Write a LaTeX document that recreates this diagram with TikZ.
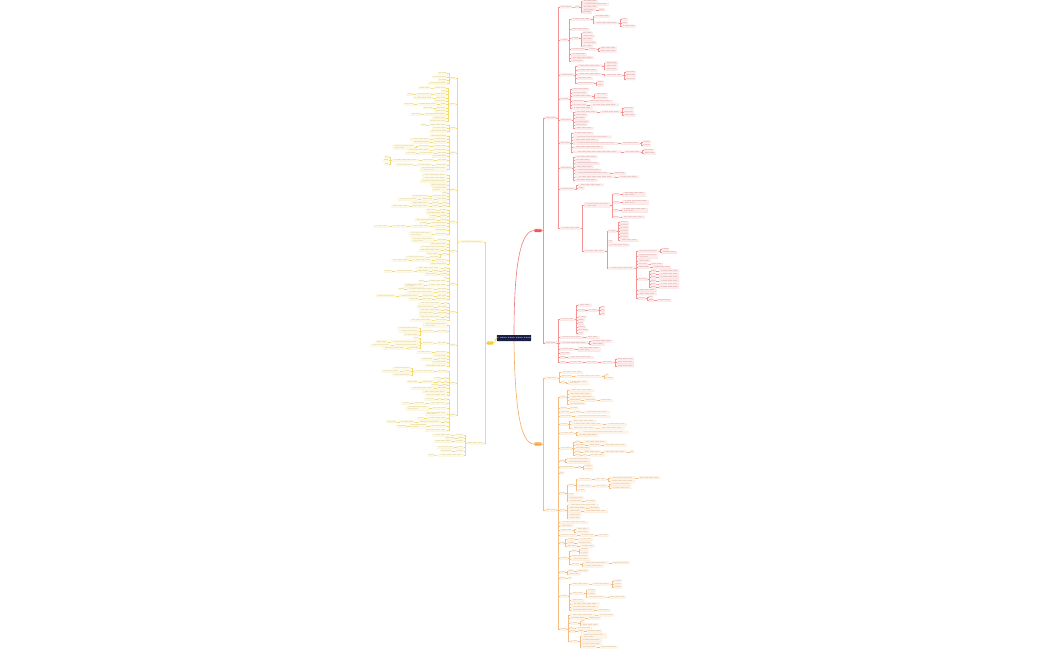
\documentclass[tikz,border=0pt]{standalone}
\usepackage{fontspec}
\newcommand\xs[1]{\expandafter\xsloop\expandafter{\number\numexpr(#1)*4/5\relax}}
\newcommand\xsloop[1]{\ifnum#1>0 \ifnum\numexpr#1/5*5\relax=#1 \space\else x\fi\expandafter\xsloop\expandafter{\number\numexpr#1-1\relax}\fi}
\newcommand\kid[4]{\coordinate (tmp) at (0,#3);
  \node[leafbox,anchor=west,xshift=3pt,minimum width=#4pt] (#1) at (#2.east |- tmp) {\xs{#4}};
  \draw[twig] (#2.east) -- ++(1.5,0) |- (#1.west);}
\newcommand\kidt[4]{\coordinate (tmp) at (0,#3);
  \node[leafbox,twoline,anchor=west,xshift=3pt,minimum width=#4pt] (#1) at (#2.east |- tmp) {\xs{#4}\\\xs{(#4)/2}};
  \draw[twig] (#2.east) -- ++(1.5,0) |- (#1.west);}
\newcommand\lkid[4]{\coordinate (tmp) at (0,#3);
  \node[leafbox,anchor=east,xshift=-3pt,minimum width=#4pt] (#1) at (#2.west |- tmp) {\xs{#4}};
  \draw[twig] (#2.west) -- ++(-1.5,0) |- (#1.east);}
\newcommand\lkidt[4]{\coordinate (tmp) at (0,#3);
  \node[leafbox,twoline,anchor=east,xshift=-3pt,minimum width=#4pt] (#1) at (#2.west |- tmp) {\xs{#4}\\\xs{(#4)/2}};
  \draw[twig] (#2.west) -- ++(-1.5,0) |- (#1.east);}
\begin{document}
\begin{tikzpicture}[x=1pt,y=-1pt,
  leafbox/.style={draw=bc!35,fill=bc!14,text=bc!75!black,line width=0.2pt,rounded corners=0.4pt,
    inner xsep=0.4pt,inner ysep=0.2pt,minimum height=2.3pt,font=\fontsize{1.5}{1.7}\selectfont},
  twoline/.style={minimum height=4.4pt,align=left},
  twig/.style={draw=bc!80,line width=0.35pt},
  hub/.style={rounded corners=0.6pt,text=white,inner sep=0.3pt,minimum height=3.2pt,font=\fontsize{1.6}{1.8}\selectfont},
  trunk/.style={line width=0.6pt}]
\definecolor{rootc}{HTML}{1B1E45}
\definecolor{rhubc}{HTML}{F25757}
\definecolor{ohubc}{HTML}{F7A440}
\definecolor{yhubc}{HTML}{F5CB1C}
\definecolor{rline}{HTML}{F27878}
\definecolor{oline}{HTML}{F5AD5E}
\definecolor{yline}{HTML}{F2D24A}
\fill[white] (0,0) rectangle (1050,650);
\useasboundingbox (0,0) rectangle (1050,650);
\node[hub,fill=rootc,minimum width=32pt,minimum height=6pt,font=\fontsize{2.4}{2.8}\selectfont] (root) at (514,338) {\xs{26}};
\node[hub,fill=rhubc,minimum width=7pt] (rhub) at (538,230.5) {\xs{7}};
\node[hub,fill=ohubc,minimum width=7pt] (ohub) at (538,444) {\xs{7}};
\node[hub,fill=yhubc,minimum width=6pt] (yhub) at (490,343) {\xs{6}};
\draw[trunk,draw=rline] (root.north) .. controls (514,262) and (521,230.5) .. (rhub.west);
\draw[trunk,draw=oline] (root.south) .. controls (515,412) and (521,444) .. (ohub.west);
\draw[trunk,draw=yline] (root.west) .. controls (495.5,338) and (495.5,343) .. (yhub.east);
\colorlet{bc}{rline}
\kid{rA}{rhub}{118}{12}
\kid{rB}{rhub}{342.7}{12}
\kid{ra1}{rA}{7}{12}
\kid{ra1a}{ra1}{7}{4}
\kid{ra1a1}{ra1a}{1.6}{15}
\kid{ra1a2}{ra1a}{4.3}{26}
\kid{ra1a3}{ra1a}{7}{15}
\kid{ra1a4}{ra1a}{9.7}{13}
\kid{ra1a4a}{ra1a4}{9.7}{6}
\kid{ra1a5}{ra1a}{12.4}{9}
\kid{ra2}{rA}{40}{8}
\kid{ra2a}{ra2}{19.5}{20}
\kid{ra2a1}{ra2a}{16.2}{15}
\kid{ra2a2}{ra2a}{22.8}{24}
\kid{ra2a2a}{ra2a2}{19.5}{6}
\kid{ra2a2b}{ra2a2}{22.8}{6}
\kid{ra2a2c}{ra2a2}{26.1}{14}
\kid{ra2b}{ra2}{29.5}{18}
\kid{ra2c}{ra2}{38.5}{8}
\kid{ra2c1}{ra2c}{33}{10}
\kid{ra2c2}{ra2c}{36.3}{12}
\kid{ra2c3}{ra2c}{39.6}{10}
\kid{ra2c4}{ra2c}{42.9}{14}
\kid{ra2c5}{ra2c}{46.2}{10}
\kid{ra2d}{ra2}{49.5}{14}
\kid{ra2d1}{ra2d}{49.5}{8}
\kid{ra2d1a}{ra2d1}{47.8}{17}
\kid{ra2d1b}{ra2d1}{51.1}{17}
\kid{ra2e}{ra2}{54.4}{15}
\kid{ra2f}{ra2}{57.7}{22}
\kid{ra2g}{ra2}{61}{12}
\kid{ra3}{rA}{75}{14}
\kid{ra3a}{ra3}{66}{25}
\kid{ra3a1}{ra3a}{62.7}{12}
\kid{ra3a2}{ra3a}{66}{12}
\kid{ra3a3}{ra3a}{69.3}{12}
\kid{ra3b}{ra3}{70.5}{20}
\kid{ra3c}{ra3}{74.5}{25}
\kid{ra3c1}{ra3c}{75.5}{17}
\kid{ra3c1a}{ra3c1}{72.2}{10}
\kid{ra3c1b}{ra3c1}{75.5}{10}
\kid{ra3c1c}{ra3c1}{78.8}{10}
\kid{ra3d}{ra3}{78.5}{15}
\kid{ra3e}{ra3}{83.5}{17}
\kid{ra3e1}{ra3e}{81.8}{6}
\kid{ra3e2}{ra3e}{85.1}{6}
\kid{ra4}{rA}{98.8}{9}
\kid{ra4a}{ra4}{89.5}{17}
\kid{ra4b}{ra4}{92.8}{15}
\kid{ra4c}{ra4}{96.1}{20}
\kid{ra4c1}{ra4c}{94.5}{12}
\kid{ra4c2}{ra4c}{97.8}{12}
\kid{ra4d}{ra4}{101.5}{12}
\kid{ra4d1}{ra4d}{101.5}{25}
\kid{ra4e}{ra4}{104.8}{15}
\kid{ra4e1}{ra4e}{104.8}{28}
\kid{ra4f}{ra4}{108.1}{20}
\kid{ra5}{rA}{120}{12}
\kid{ra5a}{ra5}{111.8}{22}
\kid{ra5a1}{ra5a}{111.8}{20}
\kid{ra5a1a}{ra5a1}{108.5}{10}
\kid{ra5a1b}{ra5a1}{111.8}{10}
\kid{ra5a1c}{ra5a1}{115.1}{12}
\kid{ra5b}{ra5}{115.1}{12}
\kid{ra5c}{ra5}{118.4}{10}
\kid{ra5d}{ra5}{121.7}{14}
\kid{ra5e}{ra5}{125}{12}
\kid{ra5f}{ra5}{128.3}{18}
\kid{ra6}{rA}{143}{10}
\kid{ra6a}{ra6}{133.5}{20}
\kid{ra6b}{ra6}{136.8}{38}
\kid{ra6c}{ra6}{140.1}{25}
\kid{ra6d}{ra6}{143.6}{45}
\kid{ra6d1}{ra6d}{143.6}{18}
\kid{ra6d1a}{ra6d1}{142}{8}
\kid{ra6d1b}{ra6d1}{145.3}{8}
\kid{ra6e}{ra6}{147.4}{30}
\kid{ra6f}{ra6}{151.8}{48}
\kid{ra6f1}{ra6f}{151.8}{16}
\kid{ra6f1a}{ra6f1}{150.2}{10}
\kid{ra6f1b}{ra6f1}{153.5}{12}
\kid{ra7}{rA}{168}{12}
\kid{ra7a}{ra7}{157}{22}
\kid{ra7b}{ra7}{160.3}{15}
\kid{ra7c}{ra7}{163.6}{24}
\kid{ra7d}{ra7}{166.9}{18}
\kid{ra7e}{ra7}{170.2}{26}
\kid{ra7f}{ra7}{173.5}{35}
\kid{ra7f1}{ra7f}{173.5}{12}
\kid{ra7g}{ra7}{176.8}{40}
\kid{ra7g1}{ra7g}{176.8}{20}
\kid{ra7h}{ra7}{180.1}{22}
\kid{ra8}{rA}{189}{15}
\kid{ra8a}{ra8}{184.8}{25}
\kid{ra8b}{ra8}{188.1}{6}
\kid{ra9}{rA}{228}{21}
\kidt{ra9a}{ra9}{205}{26}
\kid{ra9a1}{ra9a}{194.5}{6}
\kidt{ra9a1a}{ra9a1}{194.5}{23}
\kid{ra9a2}{ra9a}{202.5}{6}
\kidt{ra9a2a}{ra9a2}{202.5}{26}
\kid{ra9a3}{ra9a}{210.5}{5}
\kidt{ra9a3a}{ra9a3}{210.5}{26}
\kid{ra9a4}{ra9a}{217}{5}
\kid{ra9a4a}{ra9a4}{217}{23}
\kid{ra9b}{ra9}{251}{21}
\kid{ra9b1}{ra9b}{231}{8}
\foreach \i/\yy in {1/222.5,2/225.5,3/228.5,4/231.5,5/234.5,6/237.5}{\kid{rq\i}{ra9b1}{\yy}{9}}
\kid{rq7}{ra9b1}{240.5}{19}
\kid{ra9b2}{ra9b}{241.5}{4}
\kid{ra9b3}{ra9b}{245}{21}
\kid{ra9b4}{ra9b}{268}{26}
\kid{ra9b4a}{ra9b4}{251}{21}
\kid{ra9b4a1}{ra9b4a}{249.3}{7}
\kid{ra9b4a2}{ra9b4a}{252.6}{15}
\kidt{ra9b4b}{ra9b4}{256.5}{20}
\kid{ra9b4c}{ra9b4}{260.7}{13}
\kid{ra9b4d}{ra9b4}{264}{10}
\kid{ra9b4d1}{ra9b4d}{264}{12}
\kid{ra9b4e}{ra9b4}{267.3}{12}
\kid{ra9b4e1}{ra9b4e}{267.3}{18}
\kid{ra9b4f}{ra9b4}{279}{10}
\foreach \i/\yy in {1/270.8,2/274.1,3/277.4,4/280.7,5/284,6/287.3}{\kid{rp\i}{ra9b4f}{\yy}{5}\kid{rpx\i}{rp\i}{\yy}{20}}
\kid{ra9b4g}{ra9b4}{290.6}{19}
\kid{ra9b4h}{ra9b4}{293.9}{19}
\kid{ra9b4i}{ra9b4}{298.5}{8}
\kid{ra9b4i1}{ra9b4i}{297}{4}
\kid{ra9b4i2}{ra9b4i}{300.3}{5}
\kid{ra9b4i3}{ra9b4i2}{300.3}{14}
\kid{rb1}{rB}{319.5}{15}
\kid{rb1a}{rb1}{305}{13}
\kid{rb1b}{rb1}{310.5}{7}
\kid{rb1b1}{rb1b}{310.5}{9}
\foreach \i/\yy in {1/307.2,2/310.5,3/313.8}{\kid{rbb\i}{rb1b1}{\yy}{4}}
\kid{rb1c}{rb1}{317}{8}
\kid{rb1d}{rb1}{320.3}{6}
\kid{rb1e}{rb1}{323.6}{5}
\kid{rb1f}{rb1}{326.9}{7}
\kid{rb1g}{rb1}{330.2}{10}
\kid{rb1h}{rb1}{333.5}{5}
\kid{rb2}{rB}{337.5}{23}
\kid{rb2a}{rb2}{337.5}{13}
\kid{rb3}{rB}{342.7}{28}
\kid{rb3a}{rb3}{341.1}{21}
\kid{rb3b}{rb3}{344.4}{13}
\kid{rb4}{rB}{349}{15}
\kidt{rb4a}{rb4}{349.5}{22}
\kid{rb5}{rB}{353.5}{10}
\kid{rb6}{rB}{357.5}{5}
\kid{rb6a}{rb6}{357.5}{25}
\kid{rb7}{rB}{362.5}{6}
\kid{rb7a}{rb7}{362.5}{14}
\kid{rb7b}{rb7a}{362.5}{11}
\kid{rb7c}{rb7b}{362.5}{13}
\foreach \i/\yy in {1/359.2,2/362.5,3/365.8}{\kid{rbc\i}{rb7c}{\yy}{17}}
\colorlet{bc}{oline}
\kid{oA}{ohub}{378}{13}
\kid{oa1}{oA}{372.5}{22}
\kid{oa2}{oA}{376.5}{11}
\kid{oa2a}{oa2}{376.5}{27}
\kid{oa2a1}{oa2a}{374.8}{3}
\kid{oa2a2}{oa2a}{378.1}{8}
\kid{oa3}{oA}{382.5}{4}
\kidt{oa3a}{oa3}{382.8}{20}
\kid{oB}{ohub}{510}{12}
\kid{ob1}{oB}{397}{6}
\kid{ob1a}{ob1}{390.5}{25}
\kid{ob1b}{ob1}{393.8}{22}
\kid{ob1c}{ob1}{397.1}{25}
\kid{ob1d}{ob1}{400.4}{12}
\kid{ob1d1}{ob1d}{400.4}{12}
\kid{ob1d2}{ob1d1}{400.4}{13}
\kid{ob1e}{ob1}{403.7}{16}
\kid{ob2}{oB}{408}{7}
\kid{ob2a}{ob2}{408}{8}
\kid{ob3}{oB}{412}{10}
\kid{ob3a}{ob3}{412}{8}
\kid{ob3b}{ob3a}{412}{25}
\kid{ob4}{oB}{416.5}{12}
\kid{ob4a}{ob4}{416.5}{35}
\kid{ob5}{oB}{424.5}{8}
\kid{ob5a}{ob5}{421}{25}
\kid{ob5b}{ob5}{424.5}{32}
\kid{ob5b1}{ob5b}{424.5}{20}
\kid{ob5c}{ob5}{428}{25}
\kid{ob5c1}{ob5c}{428}{25}
\kid{ob6}{oB}{433.5}{15}
\kid{ob6a}{ob6}{432}{50}
\kid{ob6b}{ob6}{435.3}{20}
\kid{ob7}{oB}{448.5}{12}
\kid{ob7a}{ob7}{441.8}{5}
\kid{ob7a1}{ob7a}{441.8}{23}
\kid{ob7b}{ob7}{445.1}{10}
\kid{ob7b1}{ob7b}{445.1}{12}
\kid{ob7b2}{ob7b1}{445.1}{23}
\kid{ob7c}{ob7}{448.4}{15}
\kid{ob7d}{ob7}{451.7}{5}
\kid{ob7d1}{ob7d}{451.7}{17}
\kid{ob7d2}{ob7d1}{451.7}{23}
\kid{ob7d3}{ob7d2}{451.7}{4}
\kid{ob7e}{ob7}{455}{5}
\kid{ob7e1}{ob7e}{455}{3}
\kid{ob7e2}{ob7e1}{455}{15}
\kid{ob8}{oB}{460.7}{4}
\kid{ob8a}{ob8}{459.1}{23}
\kid{ob8b}{ob8}{462.4}{23}
\kid{ob9}{oB}{467.3}{15}
\kid{ob9a}{ob9}{467.3}{3}
\kid{ob9a1}{ob9a}{465.7}{8}
\kid{ob9a2}{ob9a}{469}{8}
\kid{ob10}{oB}{473}{4}
\kid{ob11}{oB}{493}{5}
\kid{ob11a}{ob11}{485}{6}
\kid{ob11a1}{ob11a}{479.5}{14}
\kid{ob11a1a}{ob11a1}{479.5}{12}
\kid{ob11a1b}{ob11a1a}{477.8}{25}
\kid{ob11a1c}{ob11a1b}{477.8}{22}
\kid{ob11a1d}{ob11a1a}{481.1}{25}
\kid{ob11a2}{ob11a}{486}{14}
\kid{ob11a2a}{ob11a2}{486}{13}
\kid{ob11a2b}{ob11a2a}{484.4}{20}
\kid{ob11a2c}{ob11a2a}{487.7}{20}
\kid{ob11a3}{ob11a}{490.5}{8}
\kid{ob11b}{ob11}{494.5}{6}
\kid{ob11c}{ob11}{497.8}{15}
\kid{ob11d}{ob11}{501.1}{14}
\kid{ob11d1}{ob11d}{501.1}{10}
\kid{ob12}{oB}{510.5}{5}
\kid{ob12a}{ob12}{505}{30}
\kid{ob12b}{ob12}{508.3}{18}
\kid{ob12b1}{ob12b}{508.3}{10}
\kid{ob12c}{ob12}{511.6}{13}
\kid{ob12c1}{ob12c}{511.6}{23}
\kid{ob12d}{ob12}{514.9}{13}
\kid{ob12e}{ob12}{518.2}{12}
\kid{ob13}{oB}{522.5}{28}
\kid{ob14}{oB}{525.8}{13}
\kid{ob15}{oB}{530.3}{13}
\kid{ob15a}{ob15}{528.7}{13}
\kid{ob15b}{ob15}{532}{13}
\kid{ob16}{oB}{535.5}{17}
\kid{ob16a}{ob16}{535.5}{15}
\kid{ob16b}{ob16a}{535.5}{10}
\kid{ob17}{oB}{543}{4}
\kid{ob17a}{ob17}{539.5}{8}
\kid{ob17a1}{ob17a}{539.5}{14}
\kid{ob17b}{ob17}{542.8}{7}
\kid{ob17b1}{ob17b}{542.8}{14}
\kid{ob17c}{ob17}{546.1}{10}
\kid{ob17c1}{ob17c}{546.1}{14}
\kid{ob18}{oB}{558}{8}
\kid{ob18a}{ob18}{550.8}{6}
\kid{ob18a1}{ob18a}{549.6}{8}
\kid{ob18a2}{ob18a}{552.9}{8}
\kid{ob18b}{ob18}{556.2}{17}
\kid{ob18c}{ob18}{559.5}{19}
\kid{ob18d}{ob18}{564.5}{9}
\kid{ob18d1}{ob18d}{562.8}{25}
\kid{ob18d1a}{ob18d1}{562.8}{18}
\kid{ob18d2}{ob18d}{566.1}{20}
\kid{ob19}{oB}{572.5}{5}
\kid{ob19a}{ob19}{570.9}{5}
\kid{ob19a1}{ob19a}{570.9}{12}
\kid{ob19b}{ob19}{574.2}{12}
\kid{ob20}{oB}{578}{5}
\kid{ob20a}{ob20}{578}{3}
\kid{ob21}{oB}{596}{8}
\kid{ob21a}{ob21}{584}{18}
\kid{ob21a1}{ob21a}{584}{18}
\foreach \i/\yy in {1/580.7,2/584,3/587.3}{\kid{oaa\i}{ob21a1}{\yy}{8}}
\kid{ob21b}{ob21}{593.5}{13}
\kid{ob21b1}{ob21b}{590.4}{8}
\kid{ob21b2}{ob21b}{593.7}{8}
\kid{ob21b3}{ob21b}{597}{18}
\kid{ob21b3a}{ob21b3}{597}{17}
\kid{ob21c}{ob21}{600.5}{13}
\kid{ob21d}{ob21}{603.8}{28}
\kid{ob21e}{ob21}{607.1}{27}
\kid{ob21f}{ob21}{610.4}{23}
\kid{ob21f1}{ob21f}{610.4}{13}
\kid{ob22}{oB}{629}{7}
\kid{ob22a}{ob22}{615}{25}
\kid{ob22a1}{ob22a}{615}{15}
\kid{ob22b}{ob22}{618.3}{15}
\kid{ob22b1}{ob22b}{618.3}{12}
\kid{ob22c}{ob22}{623}{8}
\kid{ob22c1}{ob22c}{621.4}{3}
\kid{ob22c2}{ob22c}{624.7}{17}
\kid{ob22d}{ob22}{628}{3}
\kid{ob22d1}{ob22d}{628}{15}
\kid{ob22e}{ob22}{631.3}{5}
\kid{ob22e1}{ob22e}{631.3}{5}
\kid{ob22e2}{ob22e1}{631.3}{15}
\kid{ob22f}{ob22}{641.5}{8}
\kidt{ob22f1}{ob22f}{636}{25}
\kid{ob22f2}{ob22f}{640.6}{20}
\kid{ob22f3}{ob22f}{643.9}{20}
\kid{ob22f4}{ob22f}{647.2}{15}
\kid{ob22f4a}{ob22f4}{647.2}{18}
\colorlet{bc}{yline}
\lkid{yA}{yhub}{241.7}{25}
\lkid{yB}{yhub}{443.3}{17}
\lkid{ya1}{yA}{78.5}{5}
\lkid{ya1a}{ya1}{73.5}{9}
\lkid{ya1b}{ya1}{76.8}{15}
\lkid{ya1c}{ya1}{80.1}{9}
\lkid{ya1d}{ya1}{83.4}{19}
\lkid{ya2}{yA}{104.5}{6}
\lkid{ya2a}{ya2}{88}{12}
\lkid{ya2a1}{ya2a}{88}{13}
\lkid{ya2b}{ya2}{91.3}{5}
\lkid{ya2c}{ya2}{94.6}{12}
\lkid{ya2c1}{ya2c}{94.6}{15}
\lkid{ya2c2}{ya2c1}{94.6}{6}
\lkid{ya2d}{ya2}{97.9}{10}
\lkid{ya2d1}{ya2d}{97.9}{20}
\lkid{ya2e}{ya2}{101.2}{12}
\lkid{ya2f}{ya2}{104.5}{6}
\lkid{ya2f1}{ya2f}{104.5}{20}
\lkid{ya2f2}{ya2f1}{104.5}{10}
\lkid{ya2g}{ya2}{107.8}{10}
\lkid{ya2g1}{ya2g}{107.8}{10}
\lkid{ya2h}{ya2}{111.1}{12}
\lkid{ya2i}{ya2}{114.4}{22}
\lkid{ya2i1}{ya2i}{114.4}{10}
\lkid{ya2j}{ya2}{117.7}{14}
\lkid{ya2k}{ya2}{121}{17}
\lkid{ya3}{yA}{128.5}{5}
\lkid{ya3a}{ya3}{125}{18}
\lkid{ya3a1}{ya3a}{125}{5}
\lkid{ya3b}{ya3}{128.3}{15}
\lkid{ya3c}{ya3}{131.6}{17}
\lkid{ya4}{yA}{153}{5}
\lkid{ya4a}{ya4}{136}{17}
\lkid{ya4b}{ya4}{139.3}{14}
\lkid{ya4b1}{ya4b}{139.3}{20}
\lkid{ya4c}{ya4}{142.6}{14}
\lkid{ya4c1}{ya4c}{142.6}{17}
\lkid{ya4d}{ya4}{146.5}{14}
\lkid{ya4d1}{ya4d}{146.5}{12}
\lkidt{ya4d2}{ya4d1}{147}{22}
\lkid{ya4e}{ya4}{150}{14}
\lkid{ya4e1}{ya4e}{150}{22}
\lkid{ya4f}{ya4}{153.3}{10}
\lkid{ya4f1}{ya4f}{153.3}{15}
\lkid{ya4f2}{ya4f1}{153.3}{10}
\lkid{ya4g}{ya4}{156.6}{15}
\lkid{ya4h}{ya4}{160.5}{10}
\lkid{ya4h1}{ya4h}{160.5}{12}
\lkid{ya4h2}{ya4h1}{160.5}{27}
\lkid{ya4h2a}{ya4h2}{157.2}{4}
\lkid{ya4h2b}{ya4h2}{160.5}{5}
\lkid{ya4h2c}{ya4h2}{163.8}{4}
\lkid{ya4i}{ya4}{165}{12}
\lkid{ya4i1}{ya4i}{165}{15}
\lkid{ya4i2}{ya4i1}{165}{18}
\lkidt{ya4j}{ya4}{169.5}{27}
\lkid{ya5}{yA}{190}{5}
\lkid{ya5a}{ya5}{175}{25}
\lkid{ya5b}{ya5}{178.3}{25}
\lkid{ya5c}{ya5}{181.6}{27}
\lkid{ya5d}{ya5}{184.9}{17}
\lkidt{ya5e}{ya5}{188.9}{15}
\lkid{ya5f}{ya5}{192.9}{5}
\lkid{ya5g}{ya5}{196.2}{15}
\lkid{ya5g1}{ya5g}{196.2}{17}
\lkid{ya5h}{ya5}{199.5}{10}
\lkid{ya5h1}{ya5h}{199.5}{13}
\lkid{ya5h2}{ya5h1}{199.5}{20}
\lkid{ya5i}{ya5}{202.8}{5}
\lkid{ya5i1}{ya5i}{202.8}{7}
\lkid{ya5i2}{ya5i1}{202.8}{17}
\lkid{ya5j}{ya5}{206.1}{5}
\lkid{ya5j1}{ya5j}{206.1}{7}
\lkid{ya5j2}{ya5j1}{206.1}{17}
\lkid{ya5j3}{ya5j2}{206.1}{17}
\lkid{ya6}{yA}{222}{5}
\lkid{ya6a}{ya6}{210}{8}
\lkid{ya6a1}{ya6a}{210}{10}
\lkid{ya6b}{ya6}{213.3}{21}
\lkid{ya6c}{ya6}{216.6}{7}
\lkid{ya6c1}{ya6c}{216.6}{8}
\lkid{ya6d}{ya6}{219.9}{7}
\lkid{ya6d1}{ya6d}{219.9}{22}
\lkid{ya6e}{ya6}{223.2}{17}
\lkid{ya6e1}{ya6e}{223.2}{7}
\lkid{ya6f}{ya6}{226.5}{14}
\lkid{ya6f1}{ya6f}{226.5}{20}
\lkid{ya6f2}{ya6f1}{226.5}{15}
\lkid{ya6f3}{ya6f2}{226.5}{15}
\lkid{ya6g}{ya6}{229.8}{12}
\lkid{ya6h}{ya6}{234}{12}
\lkidt{ya6h1}{ya6h}{234}{23}
\lkid{ya7}{yA}{251}{5}
\lkid{ya7a}{ya7}{240}{10}
\lkidt{ya7a1}{ya7a}{240}{23}
\lkid{ya7b}{ya7}{243.8}{17}
\lkid{ya7c}{ya7}{247.1}{27}
\lkid{ya7d}{ya7}{250.4}{3}
\lkid{ya7d1}{ya7d}{250.4}{22}
\lkid{ya7e}{ya7}{254.5}{5}
\lkid{ya7e1}{ya7e}{253.7}{13}
\lkid{ya7e2}{ya7e}{257}{10}
\lkid{ya7e3}{ya7e2}{257}{20}
\lkid{ya7f}{ya7}{260.5}{12}
\lkid{ya7f1}{ya7f}{260.5}{20}
\lkid{ya7f2}{ya7f1}{260.5}{17}
\lkid{ya7g}{ya7}{263.8}{17}
\lkid{ya8}{yA}{284}{5}
\lkid{ya8a}{ya8}{268}{3}
\lkid{ya8a1}{ya8a}{268}{25}
\lkid{ya8b}{ya8}{271.3}{5}
\lkid{ya8b1}{ya8b}{271.3}{7}
\lkid{ya8b2}{ya8b1}{271.3}{12}
\lkid{ya8b3}{ya8b2}{271.3}{18}
\lkid{ya8b4}{ya8b3}{271.3}{8}
\lkid{ya8c}{ya8}{274.6}{7}
\lkid{ya8c1}{ya8c}{274.6}{12}
\lkid{ya8d}{ya8}{277.9}{3}
\lkid{ya8e}{ya8}{281.2}{20}
\lkid{ya8e1}{ya8e}{281.2}{5}
\lkid{ya8f}{ya8}{285.2}{20}
\lkidt{ya8f1}{ya8f}{285.6}{20}
\lkid{ya8g}{ya8}{289.2}{10}
\lkid{ya8g1}{ya8g}{289.2}{27}
\lkid{ya8g2}{ya8g1}{289.2}{5}
\lkid{ya8h}{ya8}{292.5}{10}
\lkid{ya8h1}{ya8h}{292.5}{27}
\lkid{ya8i}{ya8}{295.8}{10}
\lkid{ya8i1}{ya8i}{295.8}{12}
\lkid{ya8i2}{ya8i1}{295.8}{20}
\lkid{ya8i3}{ya8i2}{295.8}{20}
\lkid{ya8j}{ya8}{299.1}{12}
\lkid{ya8j1}{ya8j}{299.1}{10}
\lkid{ya8j2}{ya8j1}{299.1}{10}
\lkid{ya9}{yA}{312}{5}
\lkid{ya9a}{ya9}{303.5}{3}
\lkid{ya9a1}{ya9a}{303.5}{22}
\lkid{ya9b}{ya9}{306.8}{10}
\lkid{ya9b1}{ya9b}{306.8}{17}
\lkid{ya9c}{ya9}{310.1}{3}
\lkid{ya9c1}{ya9c}{310.1}{22}
\lkid{ya9d}{ya9}{313.4}{10}
\lkid{ya9d1}{ya9d}{313.4}{15}
\lkid{ya9e}{ya9}{316.7}{3}
\lkid{ya9e1}{ya9e}{316.7}{22}
\lkid{ya9f}{ya9}{320}{12}
\lkid{ya9f1}{ya9f}{320}{22}
\lkid{ya10}{yA}{345}{5}
\lkidt{ya10a}{ya10}{325}{24}
\lkid{ya10b}{ya10}{331.5}{10}
\lkid{ya10b1}{ya10b}{331.5}{12}
\lkid{ya10b1a}{ya10b1}{328.2}{21}
\lkid{ya10b1b}{ya10b1}{331.5}{20}
\lkid{ya10b1c}{ya10b1}{334.8}{15}
\lkid{ya10c}{ya10}{343}{10}
\lkid{ya10c1}{ya10c}{343}{12}
\lkid{ya10c1a}{ya10c1}{338.5}{5}
\lkid{ya10c1b}{ya10c1}{341.8}{28}
\lkid{ya10c1b1}{ya10c1b}{341.8}{12}
\lkid{ya10c1c}{ya10c1}{345.1}{25}
\lkid{ya10c1c1}{ya10c1c}{345.1}{20}
\lkid{ya10c1d}{ya10c1}{348.4}{10}
\lkid{ya10c1d1}{ya10c1d}{348.4}{23}
\lkid{ya10d}{ya10}{352.5}{12}
\lkid{ya10d1}{ya10d}{352.5}{15}
\lkid{ya10e}{ya10}{355.8}{14}
\lkid{ya10f}{ya10}{359.1}{10}
\lkid{ya10f1}{ya10f}{359.1}{13}
\lkid{ya10g}{ya10}{362.4}{15}
\lkid{ya10h}{ya10}{365.7}{22}
\lkid{ya11}{yA}{383}{5}
\lkid{ya11a}{ya11}{371.5}{10}
\lkid{ya11a1}{ya11a}{371.5}{20}
\lkid{ya11a1a}{ya11a1}{368.2}{18}
\lkid{ya11a1b}{ya11a1}{371.5}{8}
\lkid{ya11a1b1}{ya11a1b}{371.5}{18}
\lkid{ya11a1c}{ya11a1}{374.8}{18}
\lkid{ya11b}{ya11}{378.5}{3}
\lkid{ya11b1}{ya11b}{378.5}{7}
\lkid{ya11c}{ya11}{381.8}{3}
\lkid{ya11c1}{ya11c}{381.8}{4}
\lkid{ya11c2}{ya11c1}{381.8}{12}
\lkid{ya11c3}{ya11c2}{381.8}{12}
\lkid{ya11d}{ya11}{385.1}{5}
\lkid{ya11d1}{ya11d}{385.1}{8}
\lkid{ya11e}{ya11}{388.4}{10}
\lkid{ya11e1}{ya11e}{388.4}{23}
\lkid{ya11f}{ya11}{391.7}{25}
\lkid{ya11g}{ya11}{395}{22}
\lkid{ya12}{yA}{415}{5}
\lkid{ya12a}{ya12}{399.5}{3}
\lkid{ya12a1}{ya12a}{399.5}{3}
\lkid{ya12a2}{ya12a1}{399.5}{10}
\lkid{ya12b}{ya12}{403.5}{18}
\lkid{ya12b1}{ya12b}{403.5}{13}
\lkid{ya12b2}{ya12b1}{403.5}{8}
\lkid{ya12c}{ya12}{408.5}{15}
\lkidt{ya12c1}{ya12c}{408.5}{23}
\lkidt{ya12d}{ya12}{413.8}{22}
\lkid{ya12e}{ya12}{418.5}{20}
\lkid{ya12e1}{ya12e}{418.5}{7}
\lkid{ya12f}{ya12}{421.8}{3}
\lkid{ya12f1}{ya12f}{421.8}{23}
\lkid{ya12f2}{ya12f1}{421.8}{15}
\lkid{ya12f3}{ya12f2}{421.8}{10}
\lkid{ya12g}{ya12}{426}{17}
\lkidt{ya12g1}{ya12g}{426.4}{17}
\lkid{ya12g2}{ya12g1}{426.4}{10}
\lkid{ya12h}{ya12}{430.5}{22}
\lkid{yb1}{yB}{435}{8}
\lkid{yb1a}{yb1}{435}{20}
\lkid{yb2}{yB}{438.3}{5}
\lkid{yb2a}{yb2}{438.3}{10}
\lkid{yb3}{yB}{441.6}{8}
\lkid{yb3a}{yb3}{441.6}{18}
\lkid{yb4}{yB}{447.5}{6}
\lkid{yb4a}{yb4}{447.5}{17}
\lkid{yb5}{yB}{450.8}{8}
\lkid{yb5a}{yb5}{450.8}{12}
\lkid{yb6}{yB}{455}{26}
\lkid{yb6a}{yb6}{455}{6}
\end{tikzpicture}
\end{document}
